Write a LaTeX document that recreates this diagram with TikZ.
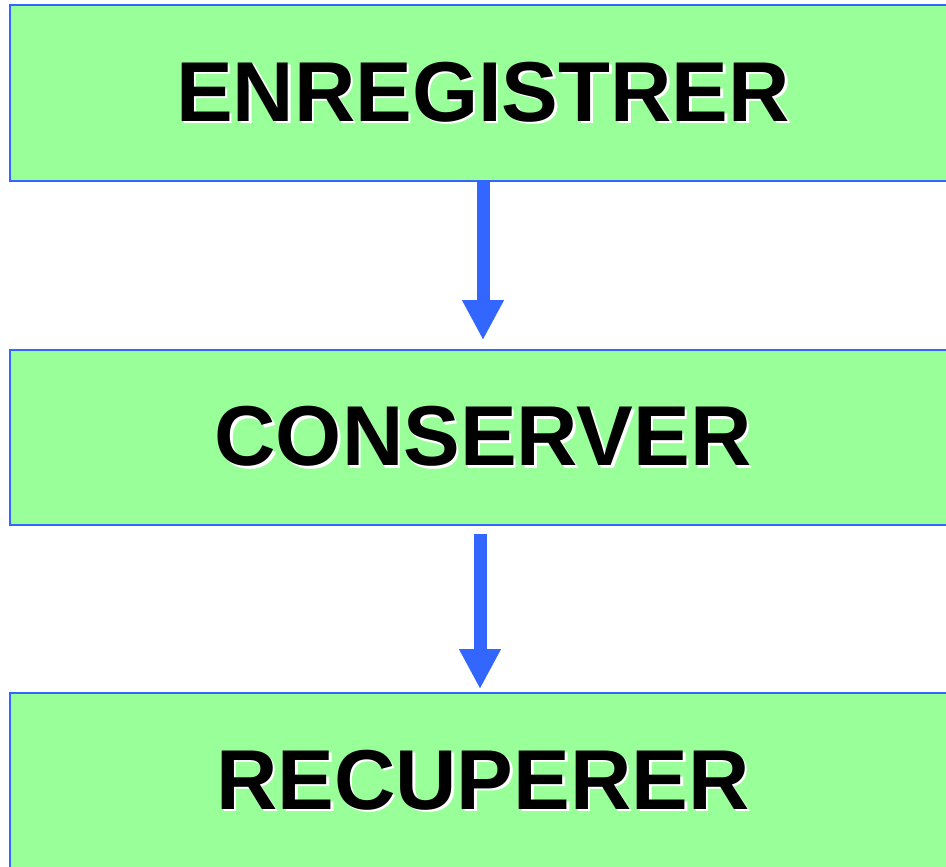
\documentclass[tikz,border=0pt]{standalone}
\usepackage{fontspec}
\setmainfont{Liberation Sans}
\usetikzlibrary{arrows.meta}
\definecolor{boxgreen}{HTML}{99FF99}
\definecolor{edgeblue}{HTML}{3366FF}
\newcommand{\shadowed}[1]{\makebox[0pt][l]{\hspace{2.5pt}\raisebox{-2.5pt}{\color{white}#1}}#1}

\begin{document}
\begin{tikzpicture}[
    stage/.style={draw=edgeblue, line width=1.8pt, fill=boxgreen, minimum width=946pt, inner sep=0pt,
                  font=\fontsize{85}{100}\selectfont\bfseries},
    flow/.style={draw=edgeblue, line width=13pt, -{Triangle[width=39pt,length=40pt]}}
]
\useasboundingbox (0,0) rectangle (946pt,-867pt);
\clip (0,0) rectangle (946pt,-867pt);
\node[stage, minimum height=176pt] (enreg) at (483pt,-93pt) {\shadowed{ENREGISTRER}};
\node[stage, minimum height=175pt] (conserv) at (483pt,-437.5pt) {\shadowed{CONSERVER}};
\node[stage, minimum height=176pt] (recup) at (483pt,-781pt) {\shadowed{RECUPERER}};
\draw[flow] (enreg.south) -- ([yshift=9pt]conserv.north);
\draw[flow] ([xshift=-3pt,yshift=-8pt]conserv.south) -- ([xshift=-3pt,yshift=3pt]recup.north);
\end{tikzpicture}
\end{document}
